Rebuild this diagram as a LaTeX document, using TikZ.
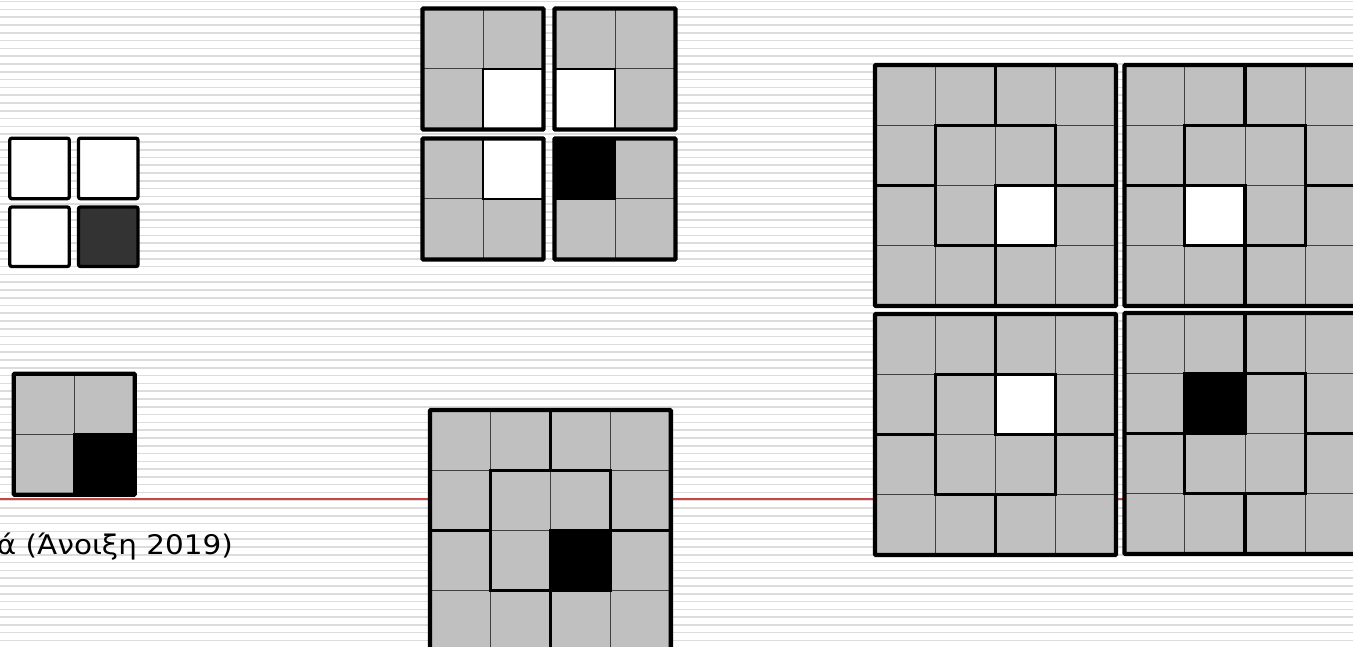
\documentclass[tikz,border=0pt]{standalone}
\usepackage{fontspec}
\newfontfamily\labelfont[FakeStretch=1.09]{DejaVu Sans}
\definecolor{cellgray}{RGB}{192,192,192}
\definecolor{darkcell}{RGB}{51,51,51}
\definecolor{ruleline}{RGB}{220,220,220}
\definecolor{redrule}{RGB}{200,70,70}
\tikzset{
  bgline/.style={draw=ruleline, line width=1.6pt},
  redline/.style={draw=redrule, line width=1.2pt},
  thinline/.style={draw=black!75, line width=1pt},
  thickline/.style={draw=black, line width=3.4pt, line cap=rect},
  outerline/.style={draw=black, line width=4.4pt, rounded corners=1pt},
  specline/.style={draw=black, line width=2.5pt},
  squarebox/.style={draw=black, line width=3.3pt, rounded corners=2pt},
  labeltext/.style={font=\labelfont\fontsize{27}{32}\selectfont, inner sep=0pt}
}
% 4x4 grid: x, y (top-left), cell, col, row, fill of the marked cell
\newcommand\quadgrid[6]{%
  \begin{scope}[shift={(#1,#2)}]
    \fill[cellgray] (0,0) rectangle (4*#3,4*#3);
    \fill[#6] (#4*#3,#5*#3) rectangle ++(#3,#3);
    \foreach \i in {1,2,3} {
      \draw[thinline] (\i*#3,0) -- (\i*#3,4*#3);
      \draw[thinline] (0,\i*#3) -- (4*#3,\i*#3);
    }
    \draw[thickline] (#3,#3) rectangle (3*#3,3*#3);
    \draw[thickline] (2*#3,0) -- (2*#3,#3);
    \draw[thickline] (2*#3,3*#3) -- (2*#3,4*#3);
    \draw[thickline] (0,2*#3) -- (#3,2*#3);
    \draw[thickline] (3*#3,2*#3) -- (4*#3,2*#3);
    \draw[thickline] (#4*#3,#5*#3) rectangle ++(#3,#3);
    \draw[outerline] (0,0) rectangle (4*#3,4*#3);
  \end{scope}}
% 2x2 grid: x, y (top-left), cell, col, row, fill of the marked cell
\newcommand\pairgrid[6]{%
  \begin{scope}[shift={(#1,#2)}]
    \fill[cellgray] (0,0) rectangle (2*#3,2*#3);
    \fill[#6] (#4*#3,#5*#3) rectangle ++(#3,#3);
    \draw[thinline] (#3,0) -- (#3,2*#3);
    \draw[thinline] (0,#3) -- (2*#3,#3);
    \draw[specline] (#4*#3,#5*#3) rectangle ++(#3,#3);
    \draw[outerline] (0,0) rectangle (2*#3,2*#3);
  \end{scope}}
\begin{document}
\begin{tikzpicture}[x=1pt,y=-1pt]
  \useasboundingbox (0,0) rectangle (1353,647);
  \clip (0,0) rectangle (1353,647);
  \fill[white] (0,0) rectangle (1353,647);
  % ruled background
  \foreach \k in {0,...,83} {
    \draw[bgline] (0,1.7+7.79*\k) -- (1353,1.7+7.79*\k);
  }
  \draw[redline] (0,499) -- (1353,499);
  % four separate squares
  \draw[squarebox, fill=white] (9.8,138.2) rectangle ++(59.5,60.5);
  \draw[squarebox, fill=white] (78.5,138.2) rectangle ++(59.5,60.5);
  \draw[squarebox, fill=white] (9.8,207) rectangle ++(59.5,59.5);
  \draw[squarebox, fill=darkcell] (78.5,207) rectangle ++(59.5,59.5);
  % 2x2 grid with black corner
  \pairgrid{13.7}{373.7}{60.5}{1}{1}{black}
  % four 2x2 blocks
  \pairgrid{422.5}{8.5}{60.5}{1}{1}{white}
  \pairgrid{554.5}{8.5}{60.5}{0}{1}{white}
  \pairgrid{422.5}{138.5}{60.5}{1}{0}{white}
  \pairgrid{554.5}{138.5}{60.5}{0}{0}{black}
  % 4x4 grids
  \quadgrid{430}{410}{60.2}{2}{2}{black}
  \quadgrid{875}{65}{60.25}{2}{2}{white}
  \quadgrid{1124.5}{65}{60.25}{1}{2}{white}
  \quadgrid{875}{314}{60.25}{2}{1}{white}
  \quadgrid{1124.5}{313}{60.25}{1}{1}{black}
  % caption fragment
  \node[labeltext, anchor=base east] (caption) at (233,554) {ά (Άνοιξη 2019)};
\end{tikzpicture}
\end{document}
